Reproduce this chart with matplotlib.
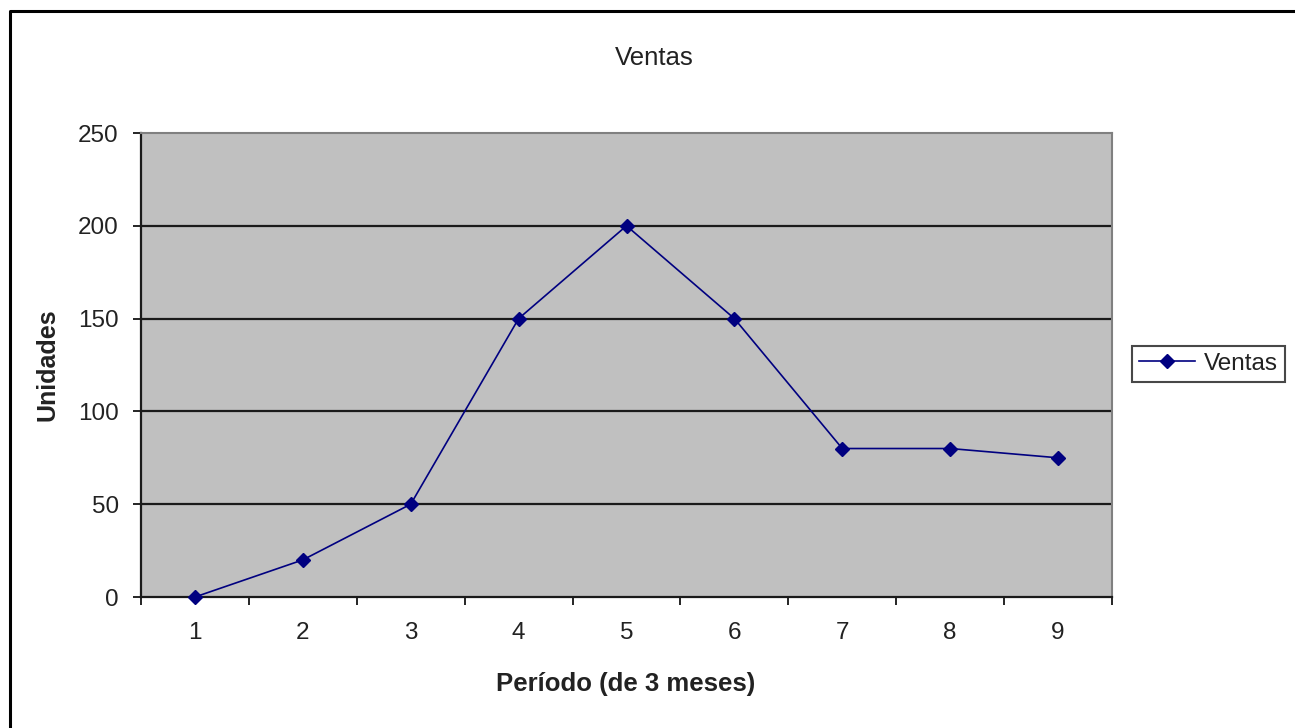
import matplotlib.pyplot as plt
from matplotlib.lines import Line2D

plt.rcParams['font.family'] = ['Liberation Sans', 'DejaVu Sans']

periodos = [1, 2, 3, 4, 5, 6, 7, 8, 9]
ventas = [0, 20, 50, 150, 200, 150, 80, 80, 75]
y_ticks = [0, 50, 100, 150, 200, 250]

W, H = 1295, 728
fig = plt.figure(figsize=(W / 100, H / 100), dpi=100)
fig.patch.set_facecolor('white')

# marco exterior (solo se ven arriba e izquierda)
fig.add_artist(Line2D([10 / W, 10 / W, 1.0], [0.0, 1 - 11 / H, 1 - 11 / H],
                      color='black', lw=2.2, transform=fig.transFigure))

ax = fig.add_axes([141 / W, 1 - 597 / H, (1112 - 141) / W, (597 - 133) / H])
ax.set_facecolor('#c0c0c0')

for y in y_ticks[1:-1]:
    ax.axhline(y, color='#1a1a1a', lw=1.6, zorder=1)

ax.plot(periodos, ventas, color='#000080', lw=1.2, marker='D', markersize=7,
        markerfacecolor='#000080', markeredgecolor='#000080', label='Ventas',
        zorder=3, clip_on=False)

ax.set_xlim(0.5, 9.5)
ax.set_ylim(0, 250)
ax.set_yticks(y_ticks)
ax.set_xticks(periodos)
ax.set_xticks([p + 0.5 for p in [0] + periodos], minor=True)
ax.tick_params(axis='x', which='major', length=0, pad=18, labelsize=17.5,
               labelcolor='#222222')
ax.tick_params(axis='x', which='minor', length=6, width=1.2, direction='out')
ax.tick_params(axis='y', length=6, width=1.2, direction='out', pad=10,
               labelsize=17.5, labelcolor='#222222')

for side in ['top', 'right']:
    ax.spines[side].set_color('#808080')
    ax.spines[side].set_linewidth(1.5)
for side in ['left', 'bottom']:
    ax.spines[side].set_color('#1a1a1a')
    ax.spines[side].set_linewidth(1.6)

fig.text(654 / W, 1 - 58 / H, 'Ventas', ha='center', va='center', fontsize=18.5,
         color='#222222')
fig.text(626 / W, 1 - 684 / H, 'Período (de 3 meses)', ha='center', va='center',
         fontsize=18.5, fontweight='bold', color='#222222')
fig.text(48 / W, 1 - 365 / H, 'Unidades', ha='center', va='center', rotation=90,
         fontsize=18, fontweight='bold', color='#222222')

leg = fig.legend(loc='center left', bbox_to_anchor=(1132 / W, 1 - 364 / H),
                 fontsize=17.5, frameon=True, fancybox=False, handlelength=2.3,
                 handletextpad=0.35, borderpad=0.3, borderaxespad=0)
leg.get_frame().set_edgecolor('#1a1a1a')
leg.get_frame().set_linewidth(1.5)
for t in leg.get_texts():
    t.set_color('#222222')

fig.savefig('out.png', dpi=100)
